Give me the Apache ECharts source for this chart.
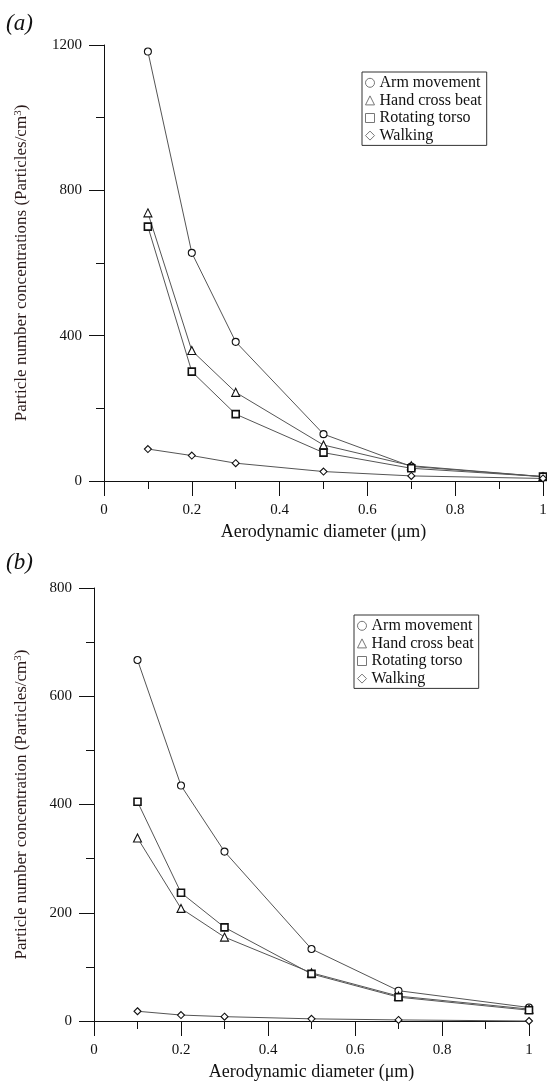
<!DOCTYPE html>
<html>
<head>
<meta charset="utf-8">
<script src="https://cdn.jsdelivr.net/npm/echarts@6/dist/echarts.min.js"></script>
<style>
  html, body { margin: 0; padding: 0; background: #fff; }
  #chart { width: 547px; height: 1086px; }
</style>
</head>
<body>
<div id="chart"></div>
<script>
// aerodynamic diameter (um)
var diameters = [0.1, 0.2, 0.3, 0.5, 0.7, 1.0];
var seriesNames = ['Arm movement', 'Hand cross beat', 'Rotating torso', 'Walking'];

// panel (a)
var armA = [1182, 628, 383, 129, 40, 12];
var handA = [738, 359, 244, 99, 42, 12];
var rotA = [700, 301, 184, 78, 35, 12];
var walkA = [88, 70, 49, 26, 14, 7];
var yTicksA = [0, 400, 800, 1200];

// panel (b)
var armB = [667, 435, 313, 133, 56, 25];
var handB = [338, 208, 155, 89, 46, 22];
var rotB = [405, 237, 173, 87, 44, 20];
var walkB = [18, 11, 8, 4, 2, 0];
var yTicksB = [0, 200, 400, 600, 800];

var xTicks = [0, 0.2, 0.4, 0.6, 0.8, 1];

var font = '"Liberation Serif", "Times New Roman", serif';
var symbols = ['circle', 'triangle', 'rect', 'diamond'];

function pairs(ys) {
  return diameters.map(function (d, i) { return [d, ys[i]]; });
}

function makeSeries(idx, values) {
  return values.map(function (ys, k) {
    return {
      name: seriesNames[k],
      type: 'line',
      xAxisIndex: idx,
      yAxisIndex: idx,
      data: pairs(ys),
      symbol: symbols[k],
      symbolSize: k === 1 ? 8 : 7,
      clip: false,
      lineStyle: { color: '#555', width: 1 },
      itemStyle: { color: '#fff', borderColor: '#111', borderWidth: k === 2 ? 1.6 : 1.1 },
      emphasis: { disabled: true },
      animation: false
    };
  });
}

function xAxisOpt(idx, gap) {
  return {
    type: 'value',
    gridIndex: idx,
    min: xTicks[0],
    max: xTicks[xTicks.length - 1],
    interval: 0.2,
    name: 'Aerodynamic diameter (\u03bcm)',
    nameLocation: 'middle',
    nameGap: gap,
    nameTextStyle: { fontFamily: font, fontSize: 18, color: '#111' },
    axisLine: { show: true, onZero: false, lineStyle: { color: '#111', width: 1 } },
    axisTick: { show: true, length: 15, lineStyle: { color: '#111' } },
    minorTick: { show: true, splitNumber: 2, length: 8, lineStyle: { color: '#111' } },
    axisLabel: { fontFamily: font, fontSize: 15, color: '#111', margin: 22 },
    splitLine: { show: false }
  };
}

function yAxisOpt(idx, ticks, title, gap) {
  return {
    type: 'value',
    gridIndex: idx,
    min: ticks[0],
    max: ticks[ticks.length - 1],
    interval: ticks[1] - ticks[0],
    name: title,
    nameLocation: 'middle',
    nameGap: gap,
    nameRotate: 90,
    nameTextStyle: {
      fontFamily: font, fontSize: 17, color: '#2a1a1a',
      rich: { sup: { fontFamily: font, fontSize: 11, color: '#2a1a1a', verticalAlign: 'top', padding: [0, 0, 6, 0] } }
    },
    axisLine: { show: true, lineStyle: { color: '#111', width: 1 } },
    axisTick: { show: true, length: 15, lineStyle: { color: '#111' } },
    minorTick: { show: true, splitNumber: 2, length: 8, lineStyle: { color: '#111' } },
    axisLabel: {
      fontFamily: font, fontSize: 15, color: '#111', margin: 22,
      formatter: function (v) { return String(v); }
    },
    splitLine: { show: false }
  };
}

function legendOpt(idx, left, top) {
  return {
    orient: 'vertical',
    left: left,
    top: top,
    data: seriesNames.map(function (n, k) {
      return { name: n, icon: symbols[k] };
    }),
    itemWidth: 9,
    itemHeight: 9,
    itemGap: 0,
    itemTextGap: 3,
    padding: [2, 5, 1, 3],
    borderColor: '#333',
    borderWidth: 1,
    backgroundColor: '#fff',
    selectedMode: false,
    itemStyle: { color: '#fff', borderColor: '#777', borderWidth: 1 },
    lineStyle: { width: 0 },
    textStyle: { fontFamily: font, fontSize: 16, color: '#111', lineHeight: 17.6 }
  };
}

var chart = echarts.init(document.getElementById('chart'), null, { renderer: 'canvas' });
chart.setOption({
  backgroundColor: '#fff',
  animation: false,
  grid: [
    { left: 104, top: 45, width: 439, height: 436, containLabel: false, outerBoundsMode: 'none' },
    { left: 94, top: 588, width: 435, height: 433, containLabel: false, outerBoundsMode: 'none' }
  ],
  xAxis: [xAxisOpt(0, 42), xAxisOpt(1, 42)],
  yAxis: [
    yAxisOpt(0, yTicksA, 'Particle number concentrations (Particles/cm{sup|3})', 74),
    yAxisOpt(1, yTicksB, 'Particle number concentration (Particles/cm{sup|3})', 64)
  ],
  legend: [legendOpt(0, 362, 72), legendOpt(1, 354, 615)],
  graphic: [
    { type: 'text', left: 6, top: 12, style: { text: '(a)', font: 'italic 23px ' + font, fill: '#111' } },
    { type: 'text', left: 6, top: 551, style: { text: '(b)', font: 'italic 23px ' + font, fill: '#111' } }
  ],
  series: makeSeries(0, [armA, handA, rotA, walkA]).concat(makeSeries(1, [armB, handB, rotB, walkB]))
});
</script>
</body>
</html>
